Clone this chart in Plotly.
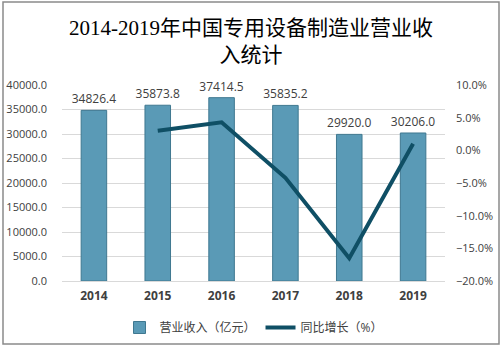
import plotly.graph_objects as go

years = ["2014", "2015", "2016", "2017", "2018", "2019"]
revenue = [34826.4, 35873.8, 37414.5, 35835.2, 29920.0, 30206.0]
growth_years = ["2015", "2016", "2017", "2018", "2019"]
growth = [3.0, 4.3, -4.2, -16.5, 1.0]

W, H = 503, 349
ml, mr, mt, mb = 62, 58, 85, 68
pw = W - ml - mr
ph = H - mt - mb

def px_x(x):
    return (x - ml) / pw

def px_y(y):
    return (H - mb - y) / ph

fig = go.Figure()
fig.add_trace(go.Bar(
    x=years, y=revenue, name="营业收入（亿元）",
    marker=dict(color="#5a9ab6", line=dict(color="#3f7890", width=1)),
    width=0.4,
    text=[f"{v:.1f}" for v in revenue], textposition="outside",
    constraintext="none",
    textfont=dict(size=12, color="#404040", family="Open Sans, Noto Sans CJK SC"),
    cliponaxis=False,
))
fig.add_trace(go.Scatter(
    x=growth_years, y=growth, name="同比增长（%）", yaxis="y2",
    mode="lines", line=dict(color="#0f4f65", width=4),
))

fig.add_shape(type="rect", xref="paper", yref="paper",
              x0=px_x(3), x1=px_x(499), y0=px_y(344), y1=px_y(2),
              line=dict(color="#8a8a8a", width=1.5), fillcolor="rgba(0,0,0,0)")

fig.add_annotation(text="2014-2019年中国专用设备制造业营业收<br>入统计",
                   xref="paper", yref="paper", x=px_x(251), y=px_y(14),
                   xanchor="center", yanchor="top", showarrow=False, align="center",
                   font=dict(size=21, color="#000000",
                             family="Liberation Serif, Noto Sans CJK SC"))

fig.update_layout(
    width=W, height=H,
    margin=dict(l=ml, r=mr, t=mt, b=mb, autoexpand=False),
    paper_bgcolor="white", plot_bgcolor="white",
    font=dict(family="Open Sans, Noto Sans CJK SC", color="#404040"),
    showlegend=True,
    legend=dict(orientation="h", x=0.5, xanchor="center", y=px_y(313), yanchor="top",
                font=dict(size=12, color="#404040"), itemwidth=30),
    xaxis=dict(type="category", showgrid=False, showline=True, linecolor="#d9d9d9",
               ticks="", tickfont=dict(size=12, color="#404040", family="Open Sans"),
               ticklabelstandoff=4),
    yaxis=dict(range=[0, 40000], dtick=5000, tickformat=".1f", showgrid=True,
               gridcolor="#d9d9d9", zeroline=False, tickfont=dict(size=11, color="#404040"),
               ticklabelstandoff=14),
    yaxis2=dict(range=[-20, 10], dtick=5, overlaying="y", side="right", showgrid=False,
                zeroline=False, ticksuffix="%", tickformat=".1f",
                tickfont=dict(size=11, color="#404040"), ticklabelstandoff=10),
)
fig.update_xaxes(tickprefix="<b>", ticksuffix="</b>")

fig.write_html("out.html")
